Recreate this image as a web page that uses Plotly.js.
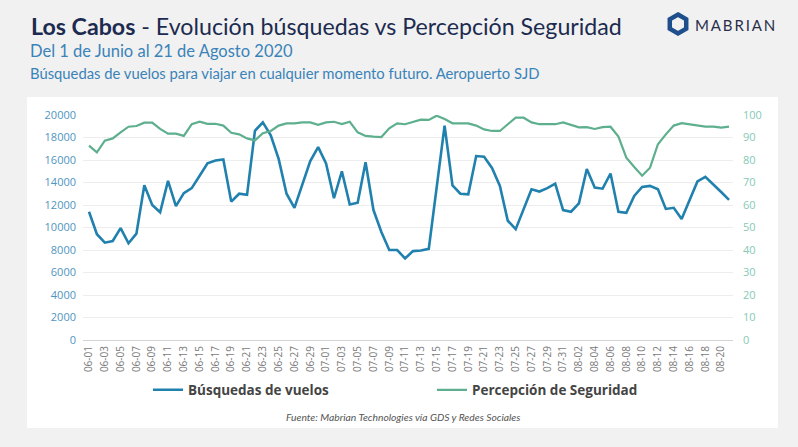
<!DOCTYPE html>
<html>
<head>
<meta charset="utf-8">
<script src="https://cdn.plot.ly/plotly-3.0.1.min.js"></script>
<style>
html,body{margin:0;padding:0;background:#f1f1f1;}
#chart{width:798px;height:447px;}
</style>
</head>
<body>
<div id="chart"></div>
<script>
const fechas = [
"06-01","06-02","06-03","06-04","06-05","06-06","06-07","06-08","06-09","06-10",
"06-11","06-12","06-13","06-14","06-15","06-16","06-17","06-18","06-19","06-20",
"06-21","06-22","06-23","06-24","06-25","06-26","06-27","06-28","06-29","06-30",
"07-01","07-02","07-03","07-04","07-05","07-06","07-07","07-08","07-09","07-10",
"07-11","07-12","07-13","07-14","07-15","07-16","07-17","07-18","07-19","07-20",
"07-21","07-22","07-23","07-24","07-25","07-26","07-27","07-28","07-29","07-30",
"07-31","08-01","08-02","08-03","08-04","08-05","08-06","08-07","08-08","08-09",
"08-10","08-11","08-12","08-13","08-14","08-15","08-16","08-17","08-18","08-19",
"08-20","08-21"];

const busquedas = [
11400,9400,8650,8800,9950,8600,9450,13750,12000,11350,
14150,11900,13050,13500,14600,15700,15950,16050,12300,13000,
12900,18600,19350,18200,16100,13000,11750,13800,15900,17150,
15700,12600,15000,12050,12200,15800,11550,9600,8000,8000,
7250,7900,7950,8100,13600,19050,13750,13000,12950,16350,
16300,15300,13700,10600,9850,11700,13400,13200,13500,13900,
11550,11400,12150,15200,13550,13450,14800,11400,11300,12800,
13600,13700,13400,11650,11750,10750,12450,14100,14500,13850,
13150,12450];

const percepcion = [
86.4,83.4,88.6,89.6,92.3,94.8,95.1,96.6,96.6,93.8,
91.7,91.7,90.7,95.9,97.0,96.1,96.1,95.3,92.1,91.4,
89.6,88.7,91.9,92.9,95.3,96.3,96.3,96.7,96.7,95.6,
96.7,97.0,96.0,97.0,92.3,90.7,90.4,90.2,94.1,96.3,
95.9,97.0,97.9,97.8,99.7,98.2,96.3,96.3,96.3,95.3,
93.6,92.9,92.9,95.9,98.8,98.8,96.7,95.9,95.9,95.9,
96.7,95.6,94.5,94.6,93.8,94.6,94.8,90.4,81.0,76.9,
73.0,76.6,87.0,91.4,95.3,96.4,95.9,95.6,94.8,94.8,
94.4,94.8];

const nombreBusquedas = "Búsquedas de vuelos";
const nombrePercepcion = "Percepción de Seguridad";
const etiquetasX = fechas.filter((d, i) => i % 2 === 0);

// pixel helpers for decoration placement
const W = 798, H = 447, L = 83, R = 65, T = 115, B = 107;
const pw = W - L - R, ph = H - T - B;
const px = x => (x - L) / pw;
const py = y => (H - B - y) / ph;

const hexPath = (() => {
  const cx = 678, cy = 24, r = 9.5;
  let p = "";
  for (let k = 0; k < 6; k++) {
    const a = Math.PI / 180 * (60 * k - 90);
    const X = px(cx + r * Math.cos(a)), Y = py(cy + r * Math.sin(a));
    p += (k === 0 ? "M" : "L") + X + "," + Y;
  }
  return p + "Z";
})();

const legendFont = {family: "Open Sans", size: 13.5, color: "#444444", weight: 700};

const traces = [
  {
    x: fechas, y: busquedas, name: nombreBusquedas, type: "scatter", mode: "lines",
    line: {color: "#2181ae", width: 2.6}, yaxis: "y", hoverinfo: "skip", legend: "legend"
  },
  {
    x: fechas, y: percepcion, name: nombrePercepcion, type: "scatter", mode: "lines",
    line: {color: "#5daf8e", width: 2.2}, yaxis: "y2", hoverinfo: "skip", legend: "legend2"
  }
];

const layout = {
  width: W, height: H,
  margin: {l: L, r: R, t: T, b: B, pad: 0},
  paper_bgcolor: "#f1f1f1",
  plot_bgcolor: "#ffffff",
  font: {family: "Open Sans, sans-serif"},
  showlegend: true,
  legend: {
    orientation: "h", x: px(148), xanchor: "left", y: py(390), yanchor: "middle",
    font: legendFont, bgcolor: "rgba(0,0,0,0)"
  },
  legend2: {
    orientation: "h", x: px(432), xanchor: "left", y: py(390), yanchor: "middle",
    font: legendFont, bgcolor: "rgba(0,0,0,0)"
  },
  xaxis: {
    type: "category", range: [-0.76, 81.5],
    tickmode: "array", tickvals: etiquetasX, ticktext: etiquetasX,
    tickangle: -90, tickfont: {family: "Open Sans", size: 10, color: "#7a7a7a"},
    showgrid: false, showline: false, zeroline: false, ticks: "", ticklabelstandoff: 3
  },
  yaxis: {
    range: [0, 20000], dtick: 2000, tickformat: "d",
    tickfont: {family: "Open Sans", size: 11, color: "#4f95c0"},
    gridcolor: "#ededed", gridwidth: 1, zeroline: true, zerolinecolor: "#d4d4d4", zerolinewidth: 1,
    showline: false, ticks: "", ticklabelstandoff: 6
  },
  yaxis2: {
    range: [0, 100], dtick: 10, overlaying: "y", side: "right",
    tickfont: {family: "Open Sans", size: 11, color: "#86c9b5"},
    showgrid: false, zeroline: false, showline: false, ticks: "", ticklabelstandoff: 9
  },
  shapes: [
    {type: "rect", xref: "paper", yref: "paper", x0: px(27), x1: px(778), y0: py(428), y1: py(97),
     fillcolor: "#ffffff", line: {width: 0}, layer: "below"},
    {type: "path", xref: "paper", yref: "paper", path: hexPath,
     line: {color: "#1f4e8c", width: 4.5}, fillcolor: "rgba(0,0,0,0)"}
  ],
  annotations: [
    {xref: "paper", yref: "paper", x: px(29), y: py(26), xanchor: "left", yanchor: "middle", showarrow: false,
     text: "<b>Los Cabos</b> - Evolución búsquedas vs Percepción Seguridad",
     font: {family: "Lato", size: 23.2, color: "#1c2b4f"}},
    {xref: "paper", yref: "paper", x: px(28), y: py(51), xanchor: "left", yanchor: "middle", showarrow: false,
     text: "Del 1 de Junio al 21 de Agosto 2020",
     font: {family: "Lato", size: 16.5, color: "#3a83b8"}},
    {xref: "paper", yref: "paper", x: px(28), y: py(73), xanchor: "left", yanchor: "middle", showarrow: false,
     text: "Búsquedas de vuelos para viajar en cualquier momento futuro. Aeropuerto SJD",
     font: {family: "Lato", size: 14.8, color: "#3a83b8"}},
    {xref: "paper", yref: "paper", x: px(693), y: py(25), xanchor: "left", yanchor: "middle", showarrow: false,
     text: "M\u2009A\u2009B\u2009R\u2009I\u2009A\u2009N",
     font: {family: "Lato", size: 15, color: "#2a2e4a"}},
    {xref: "paper", yref: "paper", x: px(403), y: py(417), xanchor: "center", yanchor: "middle", showarrow: false,
     text: "<i>Fuente: Mabrian Technologies vía GDS y Redes Sociales</i>",
     font: {family: "Lato", size: 10.3, color: "#555555"}}
  ]
};

Plotly.newPlot("chart", traces, layout, {staticPlot: true, displayModeBar: false});
</script>
</body>
</html>
